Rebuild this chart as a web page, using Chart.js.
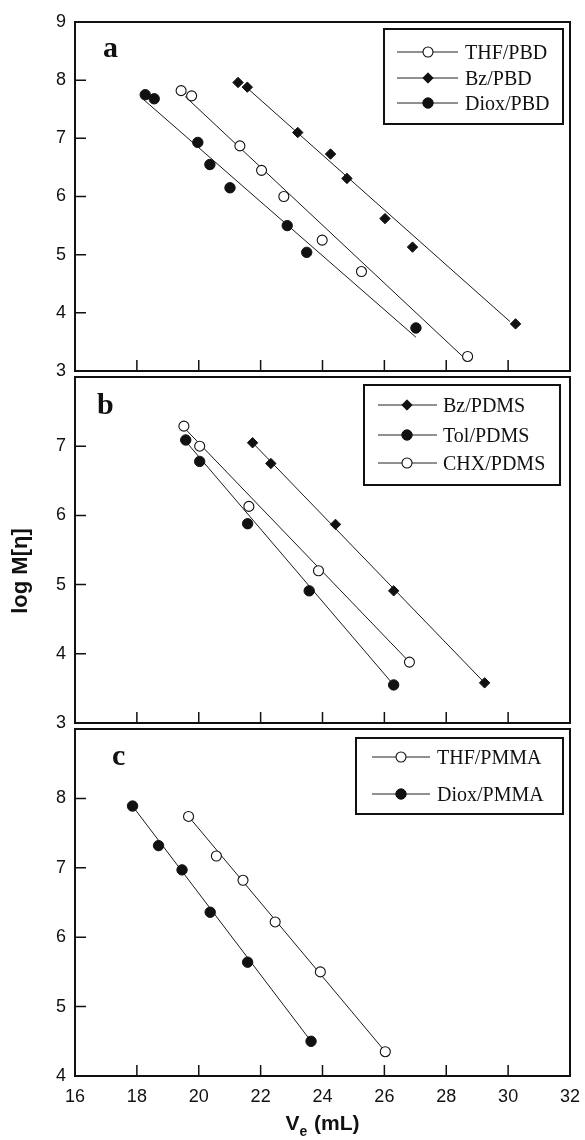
<!DOCTYPE html>
<html><head><meta charset="utf-8">
<script src="https://cdn.jsdelivr.net/npm/chart.js@4.4.1/dist/chart.umd.min.js"></script>
<style>
html,body{margin:0;padding:0;background:#fff;}
#wrap{position:relative;width:585px;height:1140px;}
canvas{position:absolute;left:0;top:0;}
</style></head><body>
<div id="wrap">
<canvas id="ca" width="585" height="1140"></canvas>
<canvas id="cb" width="585" height="1140"></canvas>
<canvas id="cc" width="585" height="1140"></canvas>
</div>
<script>
// ---------- tick values ----------
const xTickValues = [16, 18, 20, 22, 24, 26, 28, 30, 32];
const yTicksA = [3, 4, 5, 6, 7, 8, 9];
const yTicksB = [3, 4, 5, 6, 7, 8];
const yTicksC = [4, 5, 6, 7, 8, 9];

// ---------- panel a : PBD ----------
const thfPbdX  = [19.43, 19.77, 21.33, 22.03, 22.75, 23.99, 25.26, 28.69];
const thfPbdY  = [7.82, 7.73, 6.87, 6.45, 6.00, 5.25, 4.71, 3.25];
const bzPbdX   = [21.27, 21.57, 23.20, 24.26, 24.79, 26.02, 26.91, 30.24];
const bzPbdY   = [7.96, 7.88, 7.10, 6.73, 6.31, 5.62, 5.13, 3.81];
const dioxPbdX = [18.27, 18.56, 19.97, 20.36, 21.01, 22.86, 23.49, 27.02];
const dioxPbdY = [7.75, 7.68, 6.93, 6.55, 6.15, 5.50, 5.04, 3.74];
const thfPbdFitX  = [19.56, 28.55], thfPbdFitY  = [7.72, 3.24];
const bzPbdFitX   = [21.49, 30.06], bzPbdFitY   = [7.90, 3.85];
const dioxPbdFitX = [18.21, 27.02], dioxPbdFitY = [7.67, 3.58];

// ---------- panel b : PDMS ----------
const bzPdmsX  = [21.74, 22.33, 24.42, 26.30, 29.24];
const bzPdmsY  = [7.05, 6.75, 5.87, 4.91, 3.58];
const tolPdmsX = [19.58, 20.03, 21.58, 23.57, 26.30];
const tolPdmsY = [7.09, 6.78, 5.88, 4.91, 3.55];
const chxPdmsX = [19.52, 20.03, 21.62, 23.87, 26.81];
const chxPdmsY = [7.29, 7.00, 6.13, 5.20, 3.88];
const bzPdmsFitX  = [21.74, 29.24], bzPdmsFitY  = [7.05, 3.58];
const tolPdmsFitX = [19.58, 26.30], tolPdmsFitY = [7.07, 3.55];
const chxPdmsFitX = [19.52, 26.81], chxPdmsFitY = [7.27, 3.88];

// ---------- panel c : PMMA ----------
const thfPmmaX  = [19.67, 20.57, 21.43, 22.47, 23.93, 26.03];
const thfPmmaY  = [7.74, 7.17, 6.82, 6.22, 5.50, 4.35];
const dioxPmmaX = [17.86, 18.70, 19.46, 20.37, 21.58, 23.63];
const dioxPmmaY = [7.89, 7.32, 6.97, 6.36, 5.64, 4.50];
const thfPmmaFitX  = [19.67, 26.03], thfPmmaFitY  = [7.74, 4.35];
const dioxPmmaFitX = [17.86, 23.63], dioxPmmaFitY = [7.89, 4.50];

// ---------- text ----------
const yTitle = 'log M[\u03B7]';
const xTitleMain = 'V', xTitleSub = 'e', xTitleRest = ' (mL)';

// ---------- styles ----------
const SANS = '"Liberation Sans", Arial, sans-serif';
const SERIF = '"Liberation Serif", "Times New Roman", serif';
const INK = '#111';
const STY = {
  open:    {pointStyle: 'circle',  radius: 5.0, bg: '#fff', bw: 1.1},
  filled:  {pointStyle: 'circle',  radius: 5.2, bg: INK,    bw: 1},
  diamond: {pointStyle: 'rectRot', radius: 5.2, bg: INK,    bw: 1}
};

const pts = (xs, ys) => xs.map((x, i) => ({x, y: ys[i]}));
const markerSet = (label, xs, ys, s) => ({
  label, data: pts(xs, ys), showLine: false,
  pointStyle: s.pointStyle, pointRadius: s.radius,
  pointBackgroundColor: s.bg, pointBorderColor: INK, pointBorderWidth: s.bw
});
const fitSet = (xs, ys) => ({
  label: '', data: pts(xs, ys), showLine: true, pointRadius: 0,
  borderColor: '#1a1a1a', borderWidth: 1, fill: false
});

const decor = {
  id: 'decor',
  afterDatasetsDraw(chart, args, o) {
    const {ctx, chartArea: a} = chart;
    const x = chart.scales.x, y = chart.scales.y;
    ctx.save();
    ctx.strokeStyle = INK;
    ctx.lineWidth = 1.5;
    ctx.beginPath();
    o.xTicks.forEach(v => {
      if (v <= x.min || v >= x.max) return;
      const px = x.getPixelForValue(v);
      ctx.moveTo(px, a.bottom); ctx.lineTo(px, a.bottom - 11);
    });
    o.yTicks.forEach(v => {
      if (v <= y.min || v >= y.max) return;
      const py = y.getPixelForValue(v);
      ctx.moveTo(a.left, py); ctx.lineTo(a.left + 11, py);
    });
    ctx.stroke();
    ctx.lineWidth = 2;
    ctx.strokeRect(a.left, a.top, a.right - a.left, a.bottom - a.top);

    // panel letter
    ctx.fillStyle = INK;
    ctx.font = 'bold 30px ' + SERIF;
    ctx.textBaseline = 'alphabetic';
    ctx.textAlign = 'left';
    ctx.fillText(o.letter.text, o.letter.x, o.letter.y);

    // legend box
    const L = o.legend;
    ctx.lineWidth = 2;
    ctx.strokeRect(L.box[0], L.box[1], L.box[2] - L.box[0], L.box[3] - L.box[1]);
    ctx.font = '20px ' + SERIF;
    L.items.forEach((it, i) => {
      const ry = L.rows[i];
      ctx.strokeStyle = '#222'; ctx.lineWidth = 1;
      ctx.beginPath(); ctx.moveTo(L.line[0], ry); ctx.lineTo(L.line[1], ry); ctx.stroke();
      const s = STY[it.style];
      ctx.fillStyle = s.bg; ctx.strokeStyle = INK; ctx.lineWidth = s.bw;
      Chart.helpers.drawPoint(ctx, {pointStyle: s.pointStyle, radius: s.radius, borderWidth: s.bw, rotation: 0}, L.marker, ry);
      ctx.fillStyle = INK;
      ctx.fillText(it.label, L.textX, ry + 7);
    });

    if (o.yTitle) {
      ctx.save();
      ctx.translate(o.yTitle.x, o.yTitle.y);
      ctx.rotate(-Math.PI / 2);
      ctx.font = 'bold 22px ' + SANS;
      ctx.textAlign = 'center';
      ctx.textBaseline = 'middle';
      ctx.fillStyle = INK;
      ctx.fillText(yTitle, 0, 0);
      ctx.restore();
    }
    if (o.xTitle) {
      const big = 'bold 21px ' + SANS, small = 'bold 14px ' + SANS;
      ctx.font = big; const w1 = ctx.measureText(xTitleMain).width; const w3 = ctx.measureText(xTitleRest).width;
      ctx.font = small; const w2 = ctx.measureText(xTitleSub).width;
      const cx = (a.left + a.right) / 2;
      let sx = cx - (w1 + w2 + 1 + w3) / 2;
      const by = o.xTitle.y;
      ctx.fillStyle = INK; ctx.textAlign = 'left'; ctx.textBaseline = 'alphabetic';
      ctx.font = big; ctx.fillText(xTitleMain, sx, by); sx += w1;
      ctx.font = small; ctx.fillText(xTitleSub, sx, by + 6); sx += w2 + 1;
      ctx.font = big; ctx.fillText(xTitleRest, sx, by);
    }
    ctx.restore();
  }
};

function makePanel(id, cfg) {
  return new Chart(document.getElementById(id), {
    type: 'scatter',
    data: {datasets: cfg.datasets},
    plugins: [decor],
    options: {
      responsive: false, animation: false, devicePixelRatio: 1, events: [],
      layout: {padding: {left: 0, right: 15, top: cfg.top, bottom: cfg.bottom}},
      plugins: {legend: {display: false}, tooltip: {enabled: false}, decor: cfg.decor},
      scales: {
        x: {
          type: 'linear', min: 16, max: 32, display: cfg.showX,
          afterFit: s => { s.height = cfg.showX ? 40 : 0; s.paddingLeft = 0; s.paddingRight = 0; },
          afterBuildTicks: s => { s.ticks = xTickValues.map(v => ({value: v})); },
          grid: {display: false, drawTicks: false}, border: {display: false},
          ticks: {padding: 10, color: INK, maxRotation: 0, autoSkip: false,
                  font: {family: SANS, size: 18}}
        },
        y: {
          type: 'linear', min: cfg.yTicks[0], max: cfg.yTicks[cfg.yTicks.length - 1],
          afterFit: s => { s.width = 75; s.paddingTop = 0; s.paddingBottom = 0; },
          afterBuildTicks: s => { s.ticks = cfg.yTicks.map(v => ({value: v})); },
          grid: {display: false, drawTicks: false}, border: {display: false},
          ticks: {padding: 9, color: INK, font: {family: SANS, size: 18},
                  callback: v => (cfg.hideY.includes(v) ? '' : String(v))}
        }
      }
    }
  });
}

makePanel('ca', {
  top: 22, bottom: 1140 - 371, showX: false, yTicks: yTicksA, hideY: [],
  datasets: [
    markerSet('THF/PBD', thfPbdX, thfPbdY, STY.open),
    markerSet('Bz/PBD', bzPbdX, bzPbdY, STY.diamond),
    markerSet('Diox/PBD', dioxPbdX, dioxPbdY, STY.filled),
    fitSet(thfPbdFitX, thfPbdFitY), fitSet(bzPbdFitX, bzPbdFitY), fitSet(dioxPbdFitX, dioxPbdFitY)
  ],
  decor: {
    xTicks: xTickValues, yTicks: yTicksA,
    letter: {text: 'a', x: 103, y: 57},
    legend: {box: [384, 29, 563, 124], rows: [52, 78, 103], line: [397, 458], marker: 428, textX: 465,
             items: [{label: 'THF/PBD', style: 'open'}, {label: 'Bz/PBD', style: 'diamond'}, {label: 'Diox/PBD', style: 'filled'}]}
  }
});

makePanel('cb', {
  top: 377, bottom: 1140 - 723, showX: false, yTicks: yTicksB, hideY: [8],
  datasets: [
    markerSet('Bz/PDMS', bzPdmsX, bzPdmsY, STY.diamond),
    markerSet('Tol/PDMS', tolPdmsX, tolPdmsY, STY.filled),
    markerSet('CHX/PDMS', chxPdmsX, chxPdmsY, STY.open),
    fitSet(bzPdmsFitX, bzPdmsFitY), fitSet(tolPdmsFitX, tolPdmsFitY), fitSet(chxPdmsFitX, chxPdmsFitY)
  ],
  decor: {
    xTicks: xTickValues, yTicks: yTicksB,
    letter: {text: 'b', x: 97, y: 414},
    legend: {box: [364, 385, 560, 485], rows: [405, 435, 463], line: [378, 437], marker: 407, textX: 443,
             items: [{label: 'Bz/PDMS', style: 'diamond'}, {label: 'Tol/PDMS', style: 'filled'}, {label: 'CHX/PDMS', style: 'open'}]},
    yTitle: {x: 21, y: 571}
  }
});

makePanel('cc', {
  top: 729, bottom: 1140 - 1076 - 40, showX: true, yTicks: yTicksC, hideY: [9],
  datasets: [
    markerSet('THF/PMMA', thfPmmaX, thfPmmaY, STY.open),
    markerSet('Diox/PMMA', dioxPmmaX, dioxPmmaY, STY.filled),
    fitSet(thfPmmaFitX, thfPmmaFitY), fitSet(dioxPmmaFitX, dioxPmmaFitY)
  ],
  decor: {
    xTicks: xTickValues, yTicks: yTicksC,
    letter: {text: 'c', x: 112, y: 765},
    legend: {box: [356, 738, 563, 814], rows: [757, 794], line: [372, 430], marker: 401, textX: 437,
             items: [{label: 'THF/PMMA', style: 'open'}, {label: 'Diox/PMMA', style: 'filled'}]},
    xTitle: {y: 1130}
  }
});
</script>
</body></html>
